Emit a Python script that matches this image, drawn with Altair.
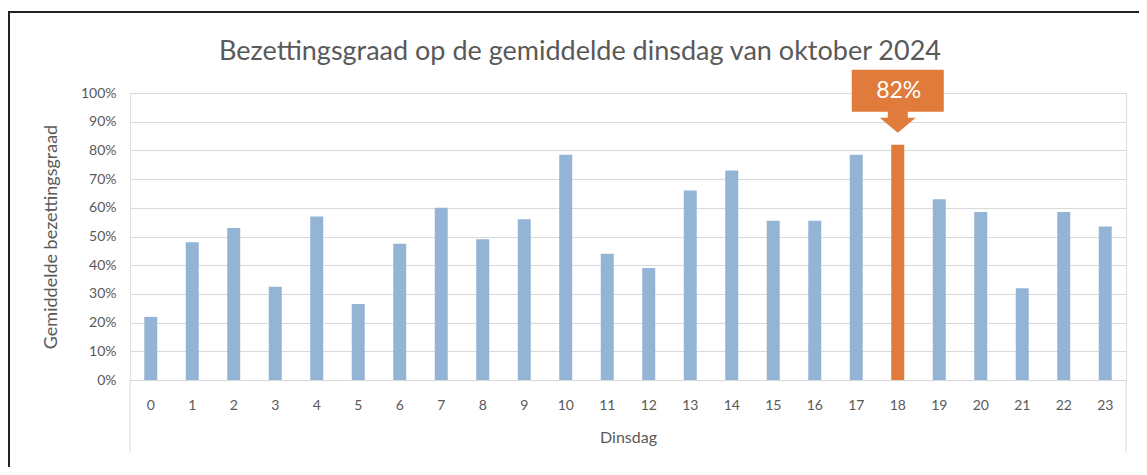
import altair as alt
import pandas as pd

# ---- data -------------------------------------------------------------
uren = [str(h) for h in range(24)]
bezetting = [0.22, 0.48, 0.53, 0.325, 0.57, 0.265, 0.475, 0.60, 0.49, 0.56,
             0.785, 0.44, 0.39, 0.66, 0.73, 0.555, 0.555, 0.785, 0.82, 0.63,
             0.585, 0.32, 0.585, 0.535]
piek_uur = "18"
piek_label = "82%"
y_ticks = [0.0, 0.1, 0.2, 0.3, 0.4, 0.5, 0.6, 0.7, 0.8, 0.9, 1.0]

titel = "Bezettingsgraad op de gemiddelde dinsdag van oktober 2024"
y_titel = "Gemiddelde bezettingsgraad"
x_titel = "Dinsdag"

BLAUW = "#93B4D4"
ORANJE = "#E07B3C"
GRIJS = "#595959"
RASTER = "#D9D9D9"
FONT = "Lato"

W, H = 996, 287

df = pd.DataFrame({"uur": uren, "bezetting": bezetting})
df["label"] = [piek_label if u == piek_uur else "" for u in uren]

x_enc = alt.X(
    "uur:N",
    sort=uren,
    scale=alt.Scale(paddingInner=0.687, paddingOuter=0.3435),
    axis=alt.Axis(
        title=x_titel, labelAngle=0, ticks=False, domainColor=RASTER,
        labelColor=GRIJS, labelFont=FONT, labelFontSize=14, labelPadding=18,
        titleColor=GRIJS, titleFont=FONT, titleFontSize=16,
        titleFontWeight="normal", titlePadding=17,
    ),
)
y_enc = alt.Y(
    "bezetting:Q",
    scale=alt.Scale(domain=[0, 1]),
    axis=alt.Axis(
        title=y_titel, format=".0%", values=y_ticks, labelOverlap=False,
        domain=False, ticks=False, gridColor=RASTER, gridWidth=1,
        labelColor=GRIJS, labelFont=FONT, labelFontSize=14, labelPadding=14,
        titleColor=GRIJS, titleFont=FONT, titleFontSize=18,
        titleFontWeight="normal", titlePadding=20,
    ),
)

bars = alt.Chart(df).mark_bar().encode(
    x=x_enc,
    y=y_enc,
    color=alt.condition(alt.datum.uur == piek_uur, alt.value(ORANJE), alt.value(BLAUW)),
)

callout_shape = ("M-1,-1.3696 L1,-1.3696 L1,-0.4565 L0.2174,-0.4565 L0.2174,-0.3261 "
                 "L0.3913,-0.3261 L0,0 L-0.3913,-0.3261 L-0.2174,-0.3261 "
                 "L-0.2174,-0.4565 L-1,-0.4565 Z")

callout = alt.Chart(df).transform_filter(alt.datum.uur == piek_uur).mark_point(
    shape=callout_shape, size=92 * 92, filled=True, color=ORANJE, opacity=1,
    yOffset=-12, strokeWidth=0,
).encode(x=x_enc, y=y_enc)

callout_text = alt.Chart(df).transform_filter(alt.datum.uur == piek_uur).mark_text(
    color="white", font=FONT, fontSize=23, baseline="middle", dy=-54, dx=1,
).encode(x=x_enc, y=y_enc, text="label:N")

deco = alt.Data(values=[{"titel": titel}])
title_mark = alt.Chart(deco).mark_text(
    font=FONT, fontSize=27, color=GRIJS, align="center", baseline="middle",
).encode(x=alt.value(450), y=alt.value(-41), text="titel:N")
box_l = alt.Chart(deco).mark_rule(color=RASTER, strokeWidth=1).encode(
    x=alt.value(0), y=alt.value(H), y2=alt.value(H + 72))
box_r = alt.Chart(deco).mark_rule(color=RASTER, strokeWidth=1).encode(
    x=alt.value(W), y=alt.value(H), y2=alt.value(H + 72))
frame_top = alt.Chart(deco).mark_rule(color="#222222", strokeWidth=2).encode(
    x=alt.value(-122), x2=alt.value(W + 30), y=alt.value(-81))
frame_left = alt.Chart(deco).mark_rule(color="#222222", strokeWidth=2).encode(
    x=alt.value(-121), y=alt.value(-82), y2=alt.value(H + 100))

chart = alt.layer(
    bars, callout, callout_text, title_mark, box_l, box_r, frame_top, frame_left
).properties(
    width=W,
    height=H,
    autosize=alt.AutoSizeParams(type="none"),
    padding={"left": 122, "top": 85, "right": 13, "bottom": 87},
).configure_view(stroke=None).configure(background="white")

chart.save("out.html", embed_options={"renderer": "svg", "actions": False})
